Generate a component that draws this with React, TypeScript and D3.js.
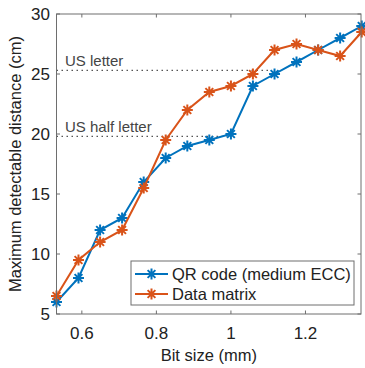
import * as React from 'react';
import * as d3 from 'd3';

const bitSize = [0.532, 0.591, 0.649, 0.708, 0.766, 0.825, 0.883, 0.942, 1.0, 1.059, 1.117, 1.176, 1.234, 1.293, 1.351];
const qrCode = [6, 8, 12, 13, 16, 18, 19, 19.5, 20, 24, 25, 26, 27, 28, 29];
const dataMatrix = [6.5, 9.5, 11, 12, 15.5, 19.5, 22, 23.5, 24, 25, 27, 27.5, 27, 26.5, 28.5];
const xTicks = [0.6, 0.8, 1, 1.2];
const yTicks = [5, 10, 15, 20, 25, 30];
const refLines = [
  { label: 'US letter', value: 25.3, end: 1.1 },
  { label: 'US half letter', value: 19.8, end: 0.99 },
];
const seriesNames = ['QR code (medium ECC)', 'Data matrix'];

const width = 365;
const height = 368;
const margin = { left: 56.5, right: 4, top: 14, bottom: 54 };
const font = '"Liberation Sans", Arial, sans-serif';
const blue = '#0072BD';
const orange = '#D95319';
const axisColor = '#6e6e6e';

// MATLAB style '*' marker: plus + cross
const asterisk = {
  draw(ctx: any, size: number) {
    const r = Math.sqrt(size) / 2;
    const d = r * Math.SQRT1_2;
    ctx.moveTo(-r, 0); ctx.lineTo(r, 0);
    ctx.moveTo(0, -r); ctx.lineTo(0, r);
    ctx.moveTo(-d, -d); ctx.lineTo(d, d);
    ctx.moveTo(-d, d); ctx.lineTo(d, -d);
  },
};

const App = () => {
  const x = d3.scaleLinear().domain([0.532, 1.349]).range([margin.left, width - margin.right]);
  const y = d3.scaleLinear().domain([5, 30]).range([height - margin.bottom, margin.top]);
  const line = d3.line<number>().x((_, i) => x(bitSize[i])).y(d => y(d));
  const marker = d3.symbol().type(asterisk as any).size(121)();

  const x0 = x.range()[0], x1 = x.range()[1];
  const y0 = y.range()[0], y1 = y.range()[1];

  const series = [
    { name: seriesNames[0], values: qrCode, color: blue },
    { name: seriesNames[1], values: dataMatrix, color: orange },
  ];

  return (
    <svg width={width} height={height} style={{ position: 'absolute', left: 0, top: 0, background: '#fff' }}>
      {refLines.map(r => (
        <g key={r.label}>
          <line x1={x0} x2={x(r.end)} y1={y(r.value)} y2={y(r.value)} stroke="#555" strokeWidth={1.3} strokeDasharray="1.5 3.5" />
          <text x={65} y={y(r.value) - 4} fontFamily={font} fontSize={15} fill="#444">{r.label}</text>
        </g>
      ))}

      {series.map(s => (
        <g key={s.name}>
          <path d={line(s.values) || ''} fill="none" stroke={s.color} strokeWidth={2} />
          {s.values.map((v, i) => (
            <path key={i} d={marker || ''} transform={`translate(${x(bitSize[i])},${y(v)})`} fill="none" stroke={s.color} strokeWidth={2} />
          ))}
        </g>
      ))}

      {/* box */}
      <rect x={x0} y={y1} width={x1 - x0} height={y0 - y1} fill="none" stroke={axisColor} strokeWidth={1} />
      {xTicks.map(t => (
        <g key={t}>
          <line x1={x(t)} x2={x(t)} y1={y0} y2={y0 - 3.5} stroke={axisColor} />
          <line x1={x(t)} x2={x(t)} y1={y1} y2={y1 + 3.5} stroke={axisColor} />
          <text x={x(t)} y={339} textAnchor="middle" fontFamily={font} fontSize={17} fill="#222">{t}</text>
        </g>
      ))}
      {yTicks.map(t => (
        <g key={t}>
          <line x1={x0} x2={x0 + 3.5} y1={y(t)} y2={y(t)} stroke={axisColor} />
          <line x1={x1} x2={x1 - 3.5} y1={y(t)} y2={y(t)} stroke={axisColor} />
          <text x={50} y={y(t) + 6} textAnchor="end" fontFamily={font} fontSize={17} fill="#222">{t}</text>
        </g>
      ))}

      <text x={(x0 + x1) / 2} y={361} textAnchor="middle" fontFamily={font} fontSize={16.5} fill="#222">Bit size (mm)</text>
      <text transform={`translate(21,${(y0 + y1) / 2}) rotate(-90)`} textAnchor="middle" fontFamily={font} fontSize={16.5} fill="#222">
        Maximum detectable distance (cm)
      </text>

      {/* legend */}
      <g>
        <rect x={131} y={261} width={223} height={44} fill="#fff" stroke={axisColor} strokeWidth={1} />
        {series.map((s, i) => (
          <g key={s.name} transform={`translate(0,${274 + i * 20})`}>
            <line x1={135} x2={168} y1={0} y2={0} stroke={s.color} strokeWidth={2} />
            <path d={marker || ''} transform="translate(151.5,0)" fill="none" stroke={s.color} strokeWidth={2} />
            <text x={172} y={6} fontFamily={font} fontSize={16.5} fill="#222">{s.name}</text>
          </g>
        ))}
      </g>
    </svg>
  );
};

export default App;
